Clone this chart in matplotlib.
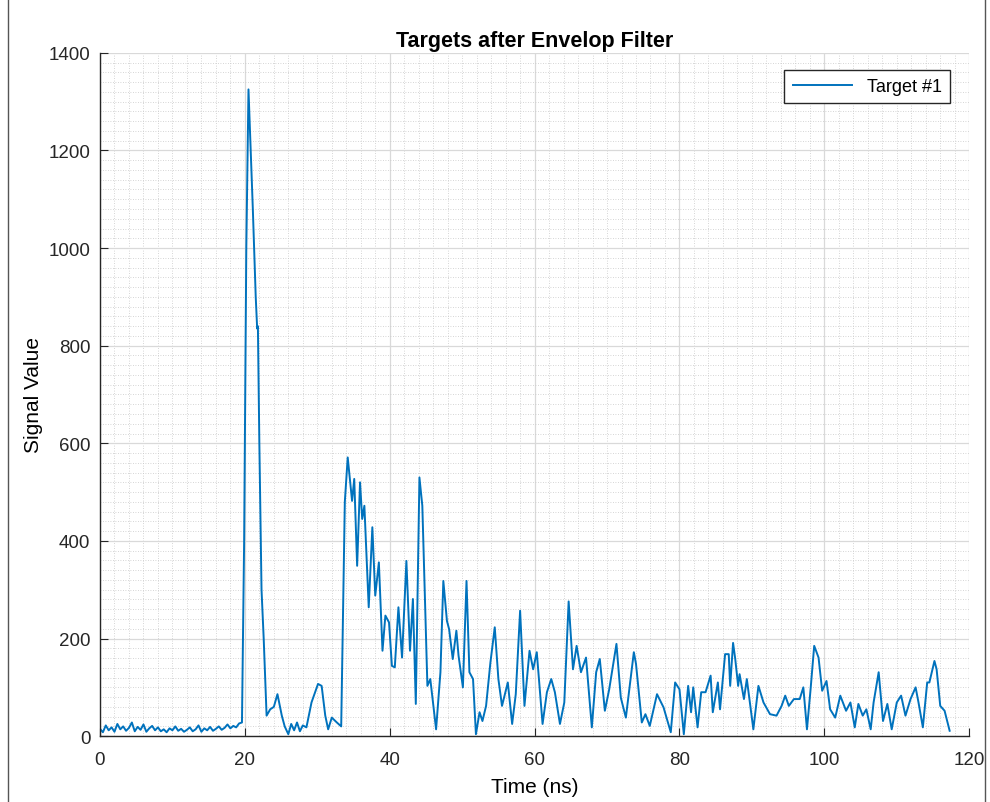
import numpy as np
import matplotlib.pyplot as plt
from matplotlib.ticker import MultipleLocator
from matplotlib.patches import Rectangle

plt.rcParams['font.family'] = ['Liberation Sans', 'DejaVu Sans']

# baseline noise before the target return (0 - 19.2 ns, every 0.4 ns)
noise_t = [i * 0.4 for i in range(49)]
noise_v = [15, 8, 22, 12, 18, 9, 25, 14, 20, 11, 17, 28, 10, 19, 13, 24, 9, 16,
           21, 12, 18, 10, 14, 8, 16, 12, 20, 11, 15, 9, 13, 18, 10, 14, 22, 9,
           16, 12, 19, 11, 15, 20, 13, 17, 24, 16, 21, 18, 26]

# main pulse and echoes
echo_t = [19.6, 19.9, 20.2, 20.5, 20.8, 21.1, 21.5, 21.7, 21.8, 22.0, 22.3, 22.6, 23.0,
          23.5, 24.0, 24.5, 25.1, 25.5, 26.0, 26.4, 26.8, 27.2, 27.6, 28.0, 28.5, 29.2,
          29.7, 30.1, 30.6, 31.1, 31.5, 32.0, 32.7, 33.3, 33.8, 34.2, 34.8, 35.1, 35.5,
          35.9, 36.2, 36.5, 37.1, 37.6, 38.0, 38.5, 39.0, 39.4, 39.9, 40.3, 40.7, 41.2,
          41.7, 42.3, 42.8, 43.2, 43.6, 44.1, 44.5, 45.2, 45.6, 46.4, 47.0, 47.4, 47.9,
          48.2, 48.7, 49.2, 49.5, 50.1, 50.6, 51.0, 51.5, 51.9, 52.4, 52.8, 53.3, 53.9,
          54.5, 55.0, 55.5, 56.3, 56.9, 57.4, 58.0, 58.6, 59.3, 59.8, 60.3, 61.1, 61.7,
          62.3, 62.8, 63.5, 64.1, 64.7, 65.3, 65.8, 66.4, 67.1, 67.9, 68.5, 69.0, 69.7,
          70.3, 71.3, 71.9, 72.6, 73.7, 74.0, 74.8, 75.3, 75.9, 76.9, 77.8, 78.8, 79.4,
          80.0, 80.6, 81.2, 81.6, 81.9, 82.5, 83.0, 83.6, 84.3, 84.6, 85.3, 85.6, 86.3,
          86.8, 87.0, 87.4, 87.7, 88.1, 88.3, 88.9, 89.3, 90.2, 90.9, 91.6, 92.5, 93.4,
          94.1, 94.6, 95.1, 95.8, 96.6, 97.1, 97.6, 98.1, 98.6, 99.2, 99.7, 100.3, 100.8,
          101.5, 102.2, 103.0, 103.6, 104.2, 104.7, 105.3, 105.8, 106.4, 106.8, 107.5,
          108.1, 108.7, 109.3, 110.0, 110.6, 111.2, 111.9, 112.6, 113.0, 113.6, 114.2,
          114.5, 115.2, 115.5, 116.0, 116.6, 117.3]
echo_v = [28, 400, 1000, 1325, 1200, 1080, 900, 835, 840, 600, 300, 200, 42,
          55, 60, 86, 42, 20, 4, 25, 12, 28, 10, 22, 18, 69,
          90, 107, 103, 42, 14, 38, 28, 20, 480, 571, 482, 527, 349,
          520, 445, 472, 264, 428, 288, 356, 175, 247, 233, 144, 141, 264,
          161, 359, 175, 281, 66, 530, 472, 103, 117, 14, 131, 318, 236,
          219, 158, 216, 165, 100, 318, 131, 117, 4, 49, 31, 62, 151,
          223, 117, 62, 110, 25, 86, 257, 62, 175, 137, 172, 25, 90,
          117, 90, 25, 69, 276, 137, 185, 131, 161, 18, 131, 158, 52,
          96, 189, 79, 38, 172, 148, 28, 45, 21, 86, 59, 8, 110,
          96, 4, 103, 49, 100, 18, 90, 90, 124, 49, 110, 55, 168,
          168, 103, 191, 158, 103, 127, 76, 117, 14, 103, 69, 45, 42,
          62, 83, 62, 76, 76, 100, 14, 96, 185, 161, 93, 113, 55,
          38, 83, 52, 69, 18, 66, 42, 55, 14, 69, 131,
          31, 66, 14, 69, 83, 42, 76, 100, 69, 18, 110,
          110, 154, 137, 62, 52, 11]

time_ns = noise_t + echo_t
signal = noise_v + echo_v

fig = plt.figure(figsize=(9.9, 8.03), dpi=100)
ax = fig.add_axes([0.101, 0.082, 0.878, 0.851])

ax.plot(time_ns, signal, color='#0072BD', linewidth=1.4, label='Target #1')

ax.set_xlim(0, 120)
ax.set_ylim(0, 1400)
ax.xaxis.set_major_locator(MultipleLocator(20))
ax.yaxis.set_major_locator(MultipleLocator(200))
ax.xaxis.set_minor_locator(MultipleLocator(2))
ax.yaxis.set_minor_locator(MultipleLocator(20))

ax.grid(True, which='major', color='#d9d9d9', linewidth=0.9)
ax.grid(True, which='minor', color='#c8c8c8', linestyle=(0, (1, 2)), linewidth=0.6)
ax.set_axisbelow(True)

for s in ['top', 'right']:
    ax.spines[s].set_visible(False)
for s in ['left', 'bottom']:
    ax.spines[s].set_color('#262626')
    ax.spines[s].set_linewidth(1.0)

ax.tick_params(which='major', direction='in', length=6, colors='#262626',
               labelsize=13.5)
ax.tick_params(axis='x', which='major', pad=11)
ax.tick_params(axis='y', which='major', pad=7)
ax.tick_params(which='minor', length=0)

ax.set_title('Targets after Envelop Filter', fontsize=15.5, fontweight='bold', pad=5)
ax.set_xlabel('Time (ns)', fontsize=15, labelpad=6)
ax.set_ylabel('Signal Value', fontsize=15, labelpad=4)

leg = ax.legend(loc='upper right', fontsize=13, fancybox=False, framealpha=1,
                edgecolor='#262626', borderpad=0.45, handlelength=3.3,
                bbox_to_anchor=(0.988, 0.988))
leg.get_frame().set_linewidth(1.0)

# window frame edges at the left and right of the screenshot
fig.patches.append(Rectangle((8 / 990, -0.05), 977 / 990, 1.2,
                             transform=fig.transFigure, fill=False,
                             edgecolor='#555555', linewidth=1.0))

fig.savefig('out.png', dpi=100)
